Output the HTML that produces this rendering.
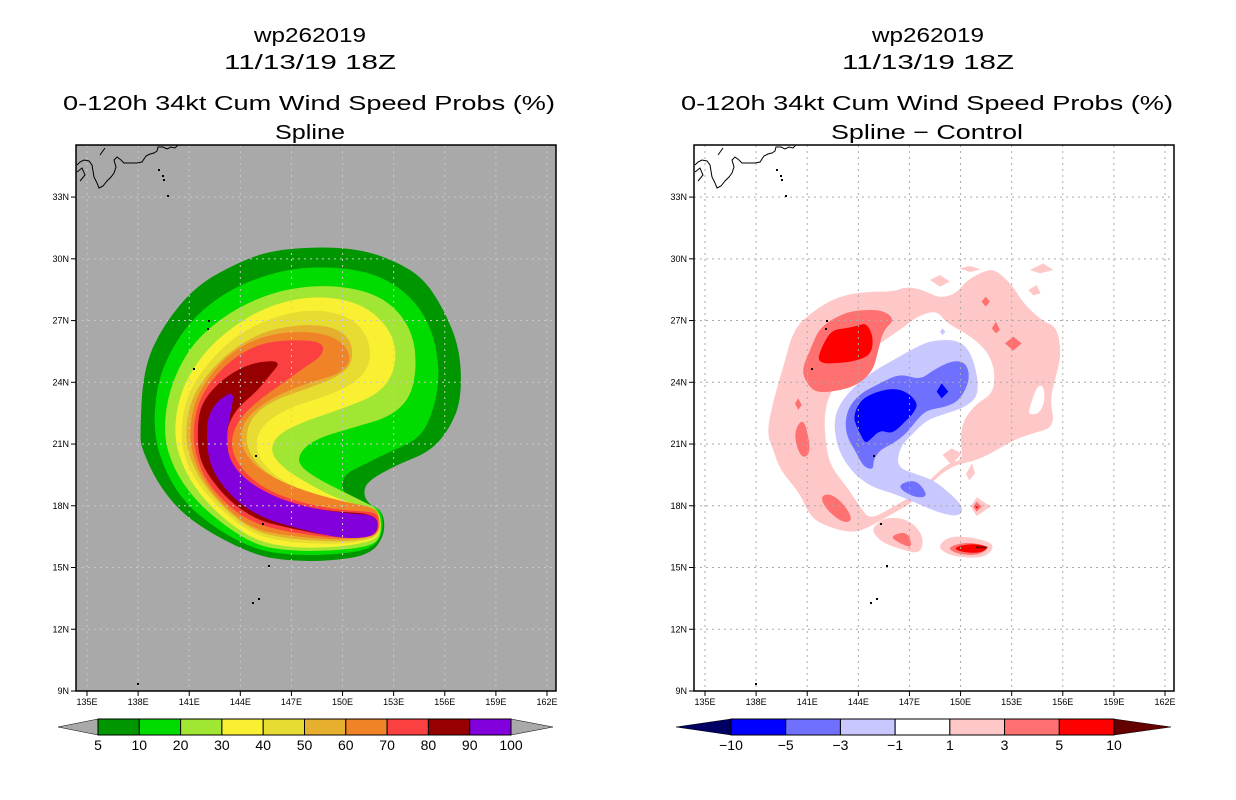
<!DOCTYPE html>
<html><head><meta charset="utf-8"><style>
html,body{margin:0;padding:0;background:#fff;}
svg{display:block;font-family:"Liberation Sans",sans-serif;}
</style></head><body>
<svg id="svg" width="1236" height="800" viewBox="0 0 1236 800" xmlns="http://www.w3.org/2000/svg">
<defs>
<clipPath id="clipL"><rect x="76" y="145" width="480" height="546"/></clipPath>
<clipPath id="clipR"><rect x="694" y="145" width="480" height="546"/></clipPath>
</defs>
<g font-size="20" text-anchor="middle" fill="#000">
<text x="310" y="42" textLength="112" lengthAdjust="spacingAndGlyphs">wp262019</text>
<text x="310" y="69" textLength="172" lengthAdjust="spacingAndGlyphs">11/13/19 18Z</text>
<text x="309" y="110" textLength="492" lengthAdjust="spacingAndGlyphs">0-120h 34kt Cum Wind Speed Probs (%)</text>
<text x="310" y="139" textLength="70" lengthAdjust="spacingAndGlyphs">Spline</text>
</g>
<g font-size="20" text-anchor="middle" fill="#000">
<text x="928" y="42" textLength="112" lengthAdjust="spacingAndGlyphs">wp262019</text>
<text x="928" y="69" textLength="172" lengthAdjust="spacingAndGlyphs">11/13/19 18Z</text>
<text x="927" y="110" textLength="492" lengthAdjust="spacingAndGlyphs">0-120h 34kt Cum Wind Speed Probs (%)</text>
<text x="927" y="139" textLength="192" lengthAdjust="spacingAndGlyphs">Spline − Control</text>
</g>

<!-- LEFT MAP -->
<g clip-path="url(#clipL)">
<rect x="76" y="145" width="480" height="546" fill="#a9a9a9"/>
<g class="smooth" transform="translate(130,235) scale(0.3333)" stroke="none">
<polygon fill="#009600" points="30,600 40,400 100,270 200,150 330,80 430,45 580,35 700,45 800,80 880,130 940,220 990,340 995,490 960,580 900,650 800,690 710,740 700,780 720,810 760,830 765,900 720,960 600,978 480,978 380,962 250,900 150,830 80,740 35,640"/>
<polygon fill="#00dc00" points="70,600 80,450 120,350 180,260 260,190 350,140 480,100 620,95 750,120 850,190 910,290 930,420 910,530 870,610 780,650 700,690 640,720 635,770 680,800 740,815 758,840 758,900 720,945 600,960 480,960 380,945 270,890 170,810 110,720"/>
<polygon fill="#a0e632" points="100,600 115,470 175,340 270,250 380,190 480,160 600,150 720,170 800,220 850,300 860,400 840,490 780,545 680,575 560,610 510,650 505,690 560,730 640,770 700,800 750,825 755,905 720,935 600,948 480,948 380,932 280,870 190,790 130,700"/>
<polygon fill="#faf032" points="130,600 150,470 215,360 300,280 400,220 500,190 600,185 700,210 770,270 800,340 790,420 740,480 640,520 520,560 440,600 420,650 460,700 540,750 620,790 700,815 752,830 752,905 700,925 600,938 480,938 380,918 290,860 210,780 160,700"/>
<polygon fill="#e6dc32" points="150,600 170,480 235,380 320,300 420,250 520,225 610,230 680,260 720,320 720,390 680,440 600,480 500,510 420,550 380,600 380,660 430,720 520,770 620,800 700,818 752,832 752,902 690,922 600,928 480,922 380,902 300,850 220,770 170,690"/>
<polygon fill="#e6af2d" points="165,600 182,490 245,400 325,330 415,285 520,268 610,275 665,315 668,385 625,425 535,460 440,492 380,530 350,580 350,640 390,700 470,750 580,790 680,810 750,832 750,902 680,918 600,920 480,912 380,892 300,838 228,760 182,680"/>
<polygon fill="#f08228" points="178,600 192,500 240,420 300,355 380,310 470,290 560,292 620,310 655,345 660,385 620,420 540,442 460,472 390,512 340,560 330,620 360,680 430,730 530,770 640,800 720,815 748,832 748,900 680,912 600,914 470,902 370,882 290,822 225,745 190,670"/>
<polygon fill="#fa4040" points="188,600 202,505 248,430 310,370 380,330 460,315 578,318 580,360 520,400 450,450 380,500 320,560 300,630 330,700 400,760 500,800 620,825 720,830 746,840 746,895 700,910 600,908 470,890 370,865 290,810 230,740 200,670"/>
<polygon fill="#960000" points="202,600 208,520 248,460 310,410 380,380 455,378 420,420 380,470 320,520 290,580 280,650 310,720 380,770 480,805 600,830 742,836 744,895 700,908 610,905 480,880 380,855 300,800 240,730 208,670"/>
<polygon fill="#8200dc" points="230,600 233,550 258,500 315,465 300,540 290,600 295,670 340,730 420,780 520,815 640,835 742,840 742,895 700,910 620,908 500,880 400,850 320,800 260,730 235,670"/>
</g>
<g id="gridL" stroke="#c8c8c8" stroke-width="1" stroke-dasharray="2,4"></g>
<g id="coastL" fill="none" stroke="#000" stroke-width="1"></g>
</g>
<rect x="76" y="145" width="480" height="546" fill="none" stroke="#000" stroke-width="1.5"/>
<g id="axL" font-size="9" fill="#000"></g>

<!-- RIGHT MAP -->
<g clip-path="url(#clipR)">
<rect x="694" y="145" width="480" height="546" fill="#fff"/>
<g class="smooth" transform="translate(760,260) scale(0.3333)" stroke="none">
<polygon fill="#ffc8c8" points="20,520 40,420 70,320 100,210 150,160 230,110 320,95 400,95 440,80 490,90 540,115 590,100 620,60 690,25 720,40 760,80 790,130 850,185 890,200 905,280 885,360 870,420 885,500 820,520 760,540 660,600 560,620 470,720 400,760 330,800 280,820 200,800 150,770 120,700 60,630 40,570"/>
<polygon fill="#fff" points="200,580 190,450 230,360 330,270 420,210 470,170 530,150 560,190 620,220 680,270 705,330 700,400 650,430 610,480 600,540 610,600 560,610 470,700 400,740 330,780 300,740 260,680 220,630"/>
<polygon fill="#fff" points="810,440 830,380 850,375 855,420 840,460 805,465"/>
<polygon fill="#c8c8ff" points="230,560 220,470 260,400 330,340 400,300 470,260 520,240 600,240 640,290 660,400 620,440 560,460 500,480 460,520 420,560 410,620 460,640 520,660 570,700 610,740 600,770 540,760 470,730 400,700 330,680 270,630"/>
<polygon fill="#c8c8ff" points="540,215 548,205 556,215 548,225"/>
<polygon fill="#7070ff" points="255,520 260,450 300,400 360,370 420,340 480,360 520,330 580,300 620,310 630,360 600,420 560,440 500,450 470,480 440,520 400,550 360,570 340,600 340,630 310,620 290,580"/>
<polygon fill="#7070ff" points="410,680 450,660 480,670 505,712 460,712"/>
<polygon fill="#0000ff" points="280,470 300,420 350,395 400,385 440,395 475,430 460,460 440,480 410,510 390,520 360,510 330,540 315,550 300,520 290,500"/>
<polygon fill="#0000ff" points="530,395 545,370 565,395 545,415"/>
<polygon fill="#ff7070" points="125,330 150,270 180,200 250,160 300,150 370,150 405,180 370,210 355,270 340,330 300,370 250,390 170,400 140,370"/>
<polygon fill="#ff0000" points="170,310 185,260 215,210 260,205 300,195 320,190 340,230 335,280 300,300 240,310"/>
<polygon fill="#ff7070" points="105,430 115,415 125,435 115,450"/>
<polygon fill="#ff7070" points="100,520 130,470 150,550 145,590 120,590"/>
<polygon fill="#ff7070" points="180,710 210,700 250,730 280,780 250,790 200,750"/>
<polygon fill="#ffc8c8" points="340,800 380,770 450,780 492,830 482,882 430,870 370,850 340,820"/>
<polygon fill="#ff7070" points="390,830 430,815 450,830 455,865 420,850"/>
<polygon fill="#ffc8c8" points="540,850 570,830 620,830 690,845 702,865 670,895 580,890 540,870"/>
<polygon fill="#ff7070" points="560,862 620,845 692,860 655,887 590,882"/>
<polygon fill="#ff0000" points="580,862 640,850 690,861 660,880 600,876"/>
<polygon fill="#800000" points="648,858 682,860 682,865 648,865"/>
<polygon fill="#ffc8c8" points="632,740 650,712 692,740 650,768"/>
<polygon fill="#ff7070" points="640,740 650,725 665,740 650,755"/>
<polygon fill="#ff0000" points="646,740 650,734 656,740 650,746"/>
<polygon fill="#ff7070" points="665,125 677,110 690,125 677,140"/>
<polygon fill="#ff7070" points="695,205 708,185 720,210 708,220"/>
<polygon fill="#ff7070" points="735,250 760,230 785,250 760,272"/>
<polygon fill="#ffc8c8" points="510,60 540,45 570,65 540,80"/>
<polygon fill="#ffc8c8" points="598,25 630,18 662,28 630,36"/>
<polygon fill="#ffc8c8" points="805,90 830,75 842,100 820,106"/>
<polygon fill="#ffc8c8" points="548,585 575,565 605,580 575,615"/>
<polygon fill="#ffc8c8" points="618,642 636,610 645,640 628,662"/>
<polygon fill="#ffc8c8" points="810,30 850,10 880,30 840,40"/>
</g>
<g id="gridR" stroke="#aaaaaa" stroke-width="1" stroke-dasharray="2,4"></g>
<g id="coastR" fill="none" stroke="#000" stroke-width="1"></g>
</g>
<rect x="694" y="145" width="480" height="546" fill="none" stroke="#000" stroke-width="1.5"/>
<g id="axR" font-size="9" fill="#000"></g>

<g id="cbL"></g>
<g id="cbR"></g>
</svg>
<script>
const lonTicks = [135,138,141,144,147,150,153,156,159,162];
const latTicks = [33,30,27,24,21,18,15,12,9];
const probLevels = ["5","10","20","30","40","50","60","70","80","90","100"];
const probColors = ["#009600","#00dc00","#a0e632","#faf032","#e6dc32","#e6af2d","#f08228","#fa4040","#960000","#8200dc"];
const diffLevels = ["−10","−5","−3","−1","1","3","5","10"];
const diffColors = ["#0000ff","#7070ff","#c8c8ff","#ffffff","#ffc8c8","#ff7070","#ff0000"];
const NS = "http://www.w3.org/2000/svg";
function lonX(lon, off){ return off + 87 + (lon-135)*17.037; }
function latY(lat){ return 691 - (lat-9)*20.58; }
function mk(tag, attrs, parent){ const e=document.createElementNS(NS,tag); for(const k in attrs) e.setAttribute(k,attrs[k]); parent.appendChild(e); return e; }

// smooth contour polygons into closed curves
document.querySelectorAll('g.smooth polygon').forEach(pg=>{
  const pts=pg.getAttribute('points').trim().split(/\s+/).map(s=>s.split(',').map(Number));
  if(pts.length<5) return;
  const n=pts.length, mid=(a,b)=>[(a[0]+b[0])/2,(a[1]+b[1])/2];
  let m=mid(pts[n-1],pts[0]);
  let d='M'+m[0]+','+m[1];
  for(let i=0;i<n;i++){ const p=pts[i], q=mid(p,pts[(i+1)%n]); d+=' Q'+p[0]+','+p[1]+' '+q[0]+','+q[1]; }
  d+='Z';
  const path=document.createElementNS(NS,'path');
  path.setAttribute('d',d);
  path.setAttribute('fill',pg.getAttribute('fill'));
  
  
  pg.parentNode.replaceChild(path,pg);
});

function axes(off, gridId, axId){
  const g=document.getElementById(gridId), ax=document.getElementById(axId);
  const x0=76+off, x1=556+off;
  lonTicks.forEach(lon=>{
    const x=lonX(lon,off);
    const l=mk('line',{x1:x,y1:145,x2:x,y2:691},g);
    
    
    const t=mk('line',{x1:x,y1:691,x2:x,y2:696,stroke:'#000'},ax);
    
    
    const tx=mk('text',{x:x,y:705,'text-anchor':'middle'},ax);
    tx.textContent=lon+'E';
    
    
  });
  latTicks.forEach(lat=>{
    const y=latY(lat);
    const l=mk('line',{x1:x0,y1:y,x2:x1,y2:y},g);
    
    
    const t=mk('line',{x1:x0-5,y1:y,x2:x0,y2:y,stroke:'#000'},ax);
    
    
    const tx=mk('text',{x:x0-7,y:y+3,'text-anchor':'end'},ax);
    tx.textContent=lat+'N';
    
    
  });
}
axes(0,'gridL','axL'); axes(618,'gridR','axR');

const coast=[[77,165],[80,162],[84,160],[89,161],[92,165],[93,171],[94,177],[97,183],[99,188],[103,186],[107,181],[111,177],[114,173],[116,167],[114,160],[117,157],[121,160],[124,163],[130,163],[137,163],[142,162],[146,156],[150,154],[154,153],[157,151],[158,147],[163,147],[167,149],[171,147],[175,148],[178,145]];
function drawCoast(off,id){
  const g=document.getElementById(id);
  const p=mk('polyline',{points:coast.map(c=>(c[0]+off)+','+c[1]).join(' ')},g);
  
  
  mk('polyline',{points:(100+off)+',155 '+(105+off)+',148'},g);
  mk('polyline',{points:(77+off)+',172 '+(82+off)+',168 '+(85+off)+',175 '+(80+off)+',181'},g);
  [[158,169],[162,175],[163,179],[167,195],[208,320],[207,328],[193,368],[268,565],[258,598],[252,602],[137,683],[262,523],[255,455]].forEach(d=>{
    const r=mk('rect',{x:d[0]+off,y:d[1],width:2,height:2,fill:'#000',stroke:'none'},g);
    
    
  });
}
drawCoast(0,'coastL'); drawCoast(618,'coastR');

function colorbar(id, levels, colors, x0, x1, tipL, tipR, triL, triR){
  const g=document.getElementById(id);
  const y0=719,y1=735,ym=727,n=colors.length,w=(x1-x0)/n;
  const a=mk('polygon',{points:`${tipL},${ym} ${x0},${y0} ${x0},${y1}`,fill:triL,stroke:'#000','stroke-width':0.5},g);
  
  
  const b=mk('polygon',{points:`${tipR},${ym} ${x1},${y0} ${x1},${y1}`,fill:triR,stroke:'#000','stroke-width':0.5},g);
  
  
  colors.forEach((c,i)=>{
    const r=mk('rect',{x:x0+i*w,y:y0,width:w,height:y1-y0,fill:c,stroke:'#000','stroke-width':1},g);
    
    
  });
  levels.forEach((lv,i)=>{
    const t=mk('text',{x:x0+i*w,y:750,'text-anchor':'middle','font-size':14},g);
    t.textContent=lv;
    
    
  });
}
colorbar('cbL',probLevels,probColors,98,511,58,553,'#a9a9a9','#a9a9a9');
colorbar('cbR',diffLevels,diffColors,731,1114,676,1171,'#000064','#640000');
</script>
</body></html>
